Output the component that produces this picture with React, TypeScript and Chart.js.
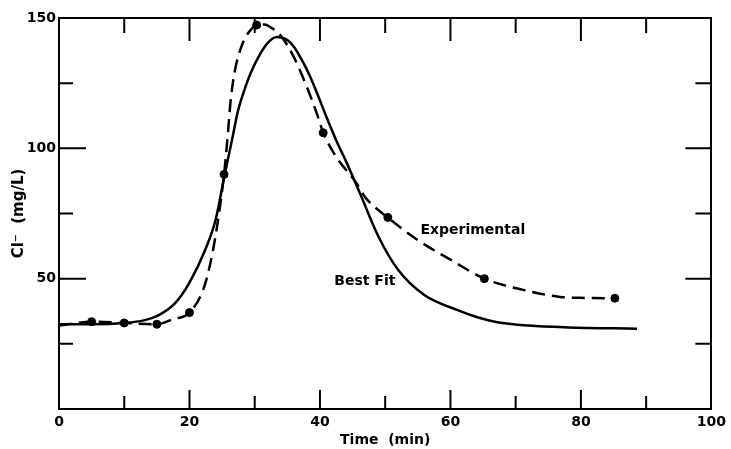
import { useEffect, useRef } from "react";
import { Chart, registerables } from "chart.js";

Chart.register(...registerables);

// Best-fit curve (solid)
const bestFitTime = [0, 5, 10, 13, 15.3, 17.8, 20, 22.4, 24, 25.4, 26.5, 27.4, 28.3, 29.4, 30.9, 32, 33.4, 35, 36, 37.2, 38.4, 39.5, 41, 42.5, 44, 46, 49, 52, 56, 61, 64, 67, 72, 78, 88.6];
const bestFitCl = [32.5, 32.5, 33, 34, 36, 40.6, 48.5, 61, 72.5, 90, 103, 114, 121.5, 129, 136.5, 140.5, 142.7, 141.5, 139, 134, 128, 121.5, 112, 103, 95, 83.5, 66, 53.3, 43.7, 38, 35.3, 33.4, 32, 31.3, 30.8];

// Experimental curve (dashed)
const expCurveTime = [0, 5, 10, 15, 17.5, 20, 22.4, 23.9, 25.3, 25.9, 26.3, 26.9, 28.1, 29.4, 30.3, 31.5, 32.4, 33.9, 36, 38, 39.5, 40.5, 42.5, 45.5, 47, 50.4, 55, 60.2, 65.2, 71.3, 76.8, 80.8, 85.2];
const expCurveCl = [32, 33.5, 33, 32.5, 34.5, 37, 48, 65, 90, 106, 118, 129, 140, 145.5, 147.3, 147.5, 146.5, 143.5, 135, 123.5, 113.5, 106, 96.7, 87, 81, 73.5, 64.8, 57, 50, 45.6, 43, 42.6, 42.5];

// Experimental samples (markers)
const expSampleTime = [5, 10, 15, 20, 25.3, 30.3, 40.5, 50.4, 65.2, 85.2];
const expSampleCl = [33.5, 33, 32.5, 37, 90, 147.3, 106, 73.5, 50, 42.5];

// Tick labels
const xTickLabels = ["0", "20", "40", "60", "80", "100"];
const yTickLabels = ["50", "100", "150"];

// Text
const seriesNames = ["Best Fit", "Experimental"];
const xTitle = "Time  (min)";
const yTitle = "Cl\u207B  (mg/L)";

// Annotation anchors in data units [time, Cl]
const bestFitLabelAt = [42.2, 49];
const expLabelAt = [55.4, 68.7];

const FONT = "'DejaVu Sans', sans-serif";

const innerTicks = {
  id: "innerTicks",
  afterDraw(chart: any) {
    const { ctx, chartArea: a } = chart;
    const sx = chart.scales.x;
    const sy = chart.scales.y;
    ctx.save();
    ctx.strokeStyle = "#000";
    ctx.lineWidth = 2;
    ctx.beginPath();
    sx.ticks.forEach((t: any) => {
      if (t.value <= sx.min || t.value >= sx.max) return;
      const p = sx.getPixelForValue(t.value);
      const major = t.value % 20 === 0;
      ctx.moveTo(p, a.bottom);
      ctx.lineTo(p, a.bottom - (major ? 19 : 13));
      ctx.moveTo(p, a.top);
      ctx.lineTo(p, a.top + (major ? 23 : 15));
    });
    sy.ticks.forEach((t: any) => {
      if (t.value <= sy.min || t.value >= sy.max) return;
      const p = sy.getPixelForValue(t.value);
      const major = t.value % 50 === 0;
      ctx.moveTo(a.left, p);
      ctx.lineTo(a.left + (major ? 27 : 14), p);
      ctx.moveTo(a.right, p);
      ctx.lineTo(a.right - (major ? 26 : 16), p);
    });
    ctx.stroke();

    ctx.fillStyle = "#000";
    ctx.font = `bold 14px ${FONT}`;
    ctx.textAlign = "left";
    ctx.textBaseline = "middle";
    ctx.fillText(seriesNames[0], sx.getPixelForValue(bestFitLabelAt[0]), sy.getPixelForValue(bestFitLabelAt[1]));
    ctx.fillText(seriesNames[1], sx.getPixelForValue(expLabelAt[0]), sy.getPixelForValue(expLabelAt[1]));
    ctx.restore();
  },
};

export default function App() {
  const ref = useRef<HTMLCanvasElement | null>(null);

  useEffect(() => {
    if (!ref.current) return;
    const toPts = (xs: number[], ys: number[]) => xs.map((x, i) => ({ x, y: ys[i] }));
    const chart = new Chart(ref.current, {
      type: "line",
      data: {
        datasets: [
          {
            label: seriesNames[0],
            data: toPts(bestFitTime, bestFitCl),
            borderColor: "#000",
            borderWidth: 2.5,
            pointRadius: 0,
            fill: false,
            cubicInterpolationMode: "monotone",
          },
          {
            label: seriesNames[1],
            data: toPts(expCurveTime, expCurveCl),
            borderColor: "#000",
            borderWidth: 2.5,
            borderDash: [13, 7],
            pointRadius: 0,
            fill: false,
            cubicInterpolationMode: "monotone",
          },
          {
            label: seriesNames[1] + " samples",
            data: toPts(expSampleTime, expSampleCl),
            showLine: false,
            pointRadius: 4,
            pointBackgroundColor: "#000",
            pointBorderColor: "#000",
            borderColor: "#000",
          },
        ],
      },
      options: {
        responsive: false,
        animation: false,
        layout: { padding: 0 },
        plugins: {
          legend: { display: false },
          tooltip: { enabled: false },
        },
        scales: {
          x: {
            type: "linear",
            position: "bottom",
            min: 0,
            max: 100,
            ticks: {
              stepSize: 10,
              autoSkip: false,
              maxRotation: 0,
              padding: 5,
              color: "#000",
              font: { family: FONT, size: 14, weight: "bold" },
              callback: (v: any) => (xTickLabels.includes(String(v)) ? String(v) : ""),
            },
            grid: { display: false, drawTicks: false },
            border: { display: true, width: 2, color: "#000" },
            title: {
              display: true,
              text: xTitle,
              color: "#000",
              font: { family: FONT, size: 14, weight: "bold" },
              padding: { top: 0, bottom: 0 },
            },
            afterFit: (s: any) => {
              s.height = 40;
            },
          },
          xTop: {
            type: "linear",
            position: "top",
            min: 0,
            max: 100,
            ticks: { display: false },
            grid: { display: false, drawTicks: false },
            border: { display: true, width: 2, color: "#000" },
            afterFit: (s: any) => {
              s.height = 18;
            },
          },
          y: {
            type: "linear",
            position: "left",
            min: 0,
            max: 150,
            ticks: {
              stepSize: 25,
              autoSkip: false,
              padding: 3,
              color: "#000",
              font: { family: FONT, size: 14, weight: "bold" },
              callback: (v: any) => (yTickLabels.includes(String(v)) ? String(v) : ""),
            },
            grid: { display: false, drawTicks: false },
            border: { display: true, width: 2, color: "#000" },
            title: {
              display: true,
              text: yTitle,
              color: "#000",
              font: { family: FONT, size: 15, weight: "bold" },
              padding: { top: 10, bottom: 0 },
            },
            afterFit: (s: any) => {
              s.width = 59;
            },
          },
          yRight: {
            type: "linear",
            position: "right",
            min: 0,
            max: 150,
            ticks: { display: false },
            grid: { display: false, drawTicks: false },
            border: { display: true, width: 2, color: "#000" },
            afterFit: (s: any) => {
              s.width = 10;
            },
          },
        },
      },
      plugins: [innerTicks],
    });
    return () => chart.destroy();
  }, []);

  return (
    <div style={{ position: "absolute", left: 0, top: 0, width: 731, height: 449, background: "#fff" }}>
      <canvas ref={ref} width={731} height={449} />
    </div>
  );
}
